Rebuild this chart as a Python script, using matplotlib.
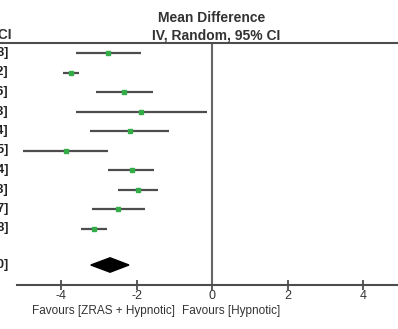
# Forest plot: Mean Difference, IV, Random, 95% CI (cropped view)

import matplotlib
matplotlib.use('Agg')
import matplotlib.pyplot as plt
from matplotlib.lines import Line2D
from matplotlib.patches import Polygon

plt.rcParams['font.family'] = ['Liberation Sans', 'DejaVu Sans']

# study rows: mean difference and 95% CI
md = [-2.75, -3.74, -2.33, -1.88, -2.17, -3.87, -2.12, -1.96, -2.49, -3.13]
ci_lo = [-3.60, -3.95, -3.07, -3.60, -3.23, -5.00, -2.75, -2.49, -3.18, -3.47]
ci_hi = [-1.88, -3.52, -1.56, -0.13, -1.14, -2.75, -1.54, -1.43, -1.77, -2.78]
# pooled estimate
total_md, total_lo, total_hi = -2.70, -3.21, -2.20
x_ticks = [-4, -2, 0, 2, 4]
left_label = 'Favours [ZRAS + Hypnotic]'
right_label = 'Favours [Hypnotic]'

W, H = 398, 329
fig = plt.figure(figsize=(W / 100, H / 100), dpi=100)

# pixel helpers for figure placement
def fx(px):
    return px / W

def fy(py):
    return 1 - py / H

ax = fig.add_axes([fx(17), fy(285), (398 - 17) / W, (285 - 43) / H])
ax.set_xlim((17 - 212) / 37.75, (398 - 212) / 37.75)
row_h = 19.5
ax.set_ylim((285 - 53) / row_h, (43 - 53) / row_h)

dark = '#4d4d4d'
green = '#33ad48'
n = len(md)
for i in range(n):
    ax.plot([ci_lo[i], ci_hi[i]], [i, i], color=dark, lw=1.6, solid_capstyle='butt')
    ax.plot(md[i], i, marker='s', ms=3.5, color=green, mec=green)

# diamond for pooled effect
yd = (265 - 53) / row_h
dh = 0.37
ax.add_patch(Polygon([[total_lo, yd], [total_md, yd - dh], [total_hi, yd], [total_md, yd + dh]],
                     closed=True, color='black'))

# line of no effect
ax.axvline(0, color='#666666', lw=1.5)

for s in ['top', 'left', 'right']:
    ax.spines[s].set_visible(False)
ax.spines['bottom'].set_color(dark)
ax.spines['bottom'].set_linewidth(1.5)
ax.set_yticks([])
ax.set_xticks(x_ticks)
ax.set_xticklabels([str(t) for t in x_ticks])
ax.tick_params(axis='x', direction='inout', length=7, width=1.3, color=dark,
               labelsize=9, labelcolor='#333333', pad=0)

# header line across the whole width
fig.add_artist(Line2D([0, 1], [fy(43), fy(43)], color=dark, lw=1.5))

fig.text(fx(212), fy(18), 'Mean Difference', ha='center', va='center',
         fontsize=10, fontweight='bold', color='#333333')
fig.text(fx(216), fy(35), 'IV, Random, 95% CI', ha='center', va='center',
         fontsize=10, fontweight='bold', color='#333333')
fig.text(fx(12), fy(35), '95% CI', ha='right', va='center',
         fontsize=10, fontweight='bold', color='#333333')

# clipped CI text column on the left edge
for i in range(n):
    s = '{:.2f} [{:.2f}, {:.2f}]'.format(md[i], ci_lo[i], ci_hi[i])
    fig.text(fx(8), fy(53 + row_h * i), s, ha='right', va='center',
             fontsize=9, fontweight='bold', color='#222222')
s = '{:.2f} [{:.2f}, {:.2f}]'.format(total_md, total_lo, total_hi)
fig.text(fx(8), fy(265), s, ha='right', va='center', fontsize=9,
         fontweight='bold', color='#222222')

fig.text(fx(175), fy(311), left_label, ha='right', va='center',
         fontsize=8.5, color='#333333')
fig.text(fx(182), fy(311), right_label, ha='left', va='center',
         fontsize=8.5, color='#333333')

fig.savefig('out.png', dpi=100)
